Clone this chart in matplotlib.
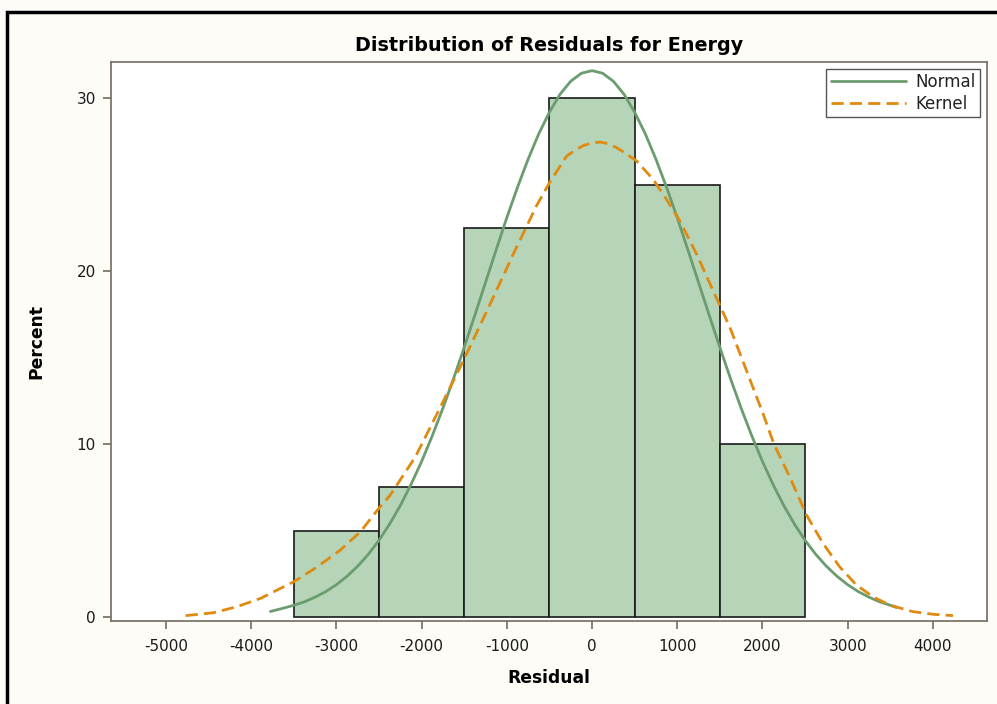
import matplotlib
matplotlib.use("Agg")
import matplotlib.pyplot as plt
from matplotlib.patches import Rectangle

# ---- data ----
bin_centers = [-3000, -2000, -1000, 0, 1000, 2000]
bin_percent = [5.0, 7.5, 22.5, 30.0, 25.0, 10.0]
bin_width = 1000

normal_x = [-3775, -3625, -3500, -3375, -3250, -3125, -3000, -2875, -2750, -2625,
            -2500, -2375, -2250, -2125, -2000, -1875, -1750, -1625, -1500, -1375,
            -1250, -1125, -1000, -875, -750, -625, -500, -375, -250, -125, 0,
            125, 250, 375, 500, 625, 750, 875, 1000, 1125, 1250, 1375, 1500, 1625,
            1750, 1875, 2000, 2125, 2250, 2375, 2500, 2625, 2750, 2875, 3000, 3125,
            3250, 3375, 3500, 3575]
normal_y = [0.32, 0.51, 0.68, 0.88, 1.15, 1.47, 1.87, 2.36, 2.94, 3.63,
            4.44, 5.38, 6.45, 7.66, 9.0, 10.48, 12.08, 13.79, 15.6, 17.46,
            19.35, 21.24, 23.1, 24.85, 26.48, 27.95, 29.2, 30.24, 30.99, 31.45, 31.6,
            31.45, 30.99, 30.24, 29.2, 27.95, 26.48, 24.85, 23.1, 21.24, 19.35, 17.46, 15.6, 13.79,
            12.08, 10.48, 9.0, 7.66, 6.45, 5.38, 4.44, 3.63, 2.94, 2.36, 1.87, 1.47,
            1.15, 0.88, 0.68, 0.55]

kernel_x = [-4770, -4440, -4165, -3890, -3660, -3500, -3225, -2955, -2720, -2505,
            -2370, -2075, -1800, -1510, -1196, -923, -650, -490, -297, -200, -100, 0, 94,
            190, 290, 400, 524, 719, 875, 1032, 1227, 1422, 1618, 1813, 2008, 2135, 2321,
            2517, 2712, 2907, 3103, 3298, 3493, 3767, 4001, 4236]
kernel_y = [0.08, 0.25, 0.6, 1.08, 1.65, 2.04, 2.9, 3.87, 4.92, 6.27,
            7.04, 9.25, 11.94, 14.83, 18.1, 21.0, 23.8, 25.2, 26.66, 27.0, 27.27, 27.42, 27.47,
            27.38, 27.14, 26.8, 26.37, 25.3, 24.15, 22.9, 20.99, 18.87, 16.75, 14.25, 11.75, 10.0, 8.1,
            5.9, 4.25, 2.9, 1.85, 1.17, 0.69, 0.31, 0.16, 0.08]

x_ticks = [-5000, -4000, -3000, -2000, -1000, 0, 1000, 2000, 3000, 4000]
y_ticks = [0, 10, 20, 30]

title = "Distribution of Residuals for Energy"
xlabel = "Residual"
ylabel = "Percent"

# ---- styling ----
plt.rcParams['font.family'] = ['DejaVu Sans']
fig = plt.figure(figsize=(9.97, 7.04), dpi=100, facecolor='#FDFCF7')

# outer black frame (left and top visible)
fig.patches.append(Rectangle((0.0075, -0.05), 1.2, 1.0334, transform=fig.transFigure,
                             fill=False, edgecolor='black', linewidth=2.5, zorder=0))

ax = fig.add_axes([0.1113, 0.1179, 0.8787, 0.794])
ax.set_facecolor('white')

ax.bar(bin_centers, bin_percent, width=bin_width, color='#B6D4B7',
       edgecolor='#1a1a1a', linewidth=1.2, zorder=2)
ax.plot(normal_x, normal_y, color='#6B9C70', linewidth=2.0, zorder=3, label='Normal',
        solid_capstyle='round', solid_joinstyle='round')
ax.plot(kernel_x, kernel_y, color='#E08A10', linewidth=2.0, zorder=4, label='Kernel',
        dashes=(4.4, 2.2))

ax.set_xlim(-5646, 4636)
ax.set_ylim(-0.23, 32.1)
ax.set_xticks(x_ticks)
ax.set_yticks(y_ticks)
ax.set_xticklabels([str(v) for v in x_ticks])

spine_col = '#746A60'
for s in ax.spines.values():
    s.set_color(spine_col)
    s.set_linewidth(1.2)
ax.tick_params(axis='both', direction='out', length=6, width=1.2, color=spine_col,
               labelsize=11, labelcolor='#1a1a1a', pad=5)
ax.tick_params(axis='x', pad=7)

ax.set_title(title, fontsize=13.8, fontweight='bold', pad=8)
ax.set_xlabel(xlabel, fontsize=12.3, fontweight='bold', labelpad=11)
ax.set_ylabel(ylabel, fontsize=12.3, fontweight='bold', labelpad=22)

leg = ax.legend(loc='upper right', fontsize=12, handlelength=4.5, handletextpad=0.6,
                borderpad=0.25, labelspacing=0.2, fancybox=False, framealpha=1,
                edgecolor='#555555', borderaxespad=0.42)
leg.get_frame().set_linewidth(1.0)
for t in leg.get_texts():
    t.set_color('#222222')

fig.savefig('out.png', dpi=100, facecolor=fig.get_facecolor())
